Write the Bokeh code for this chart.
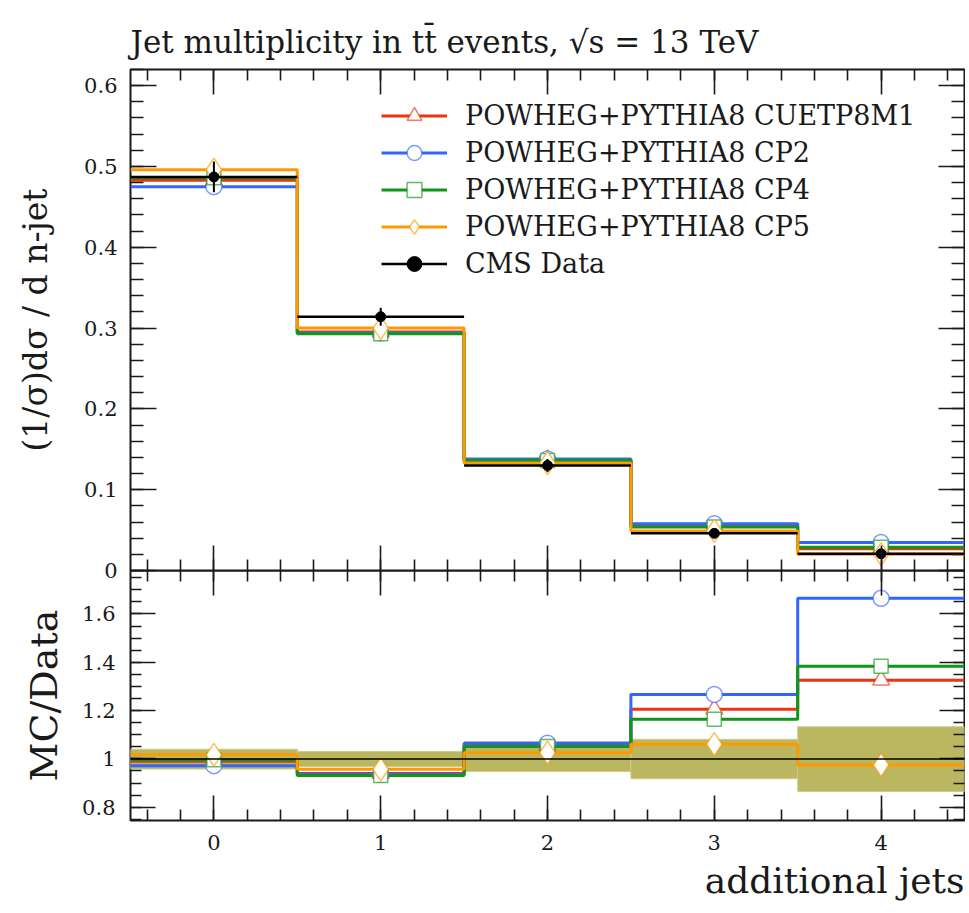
import numpy as np
from bokeh.plotting import figure
from bokeh.models import (Range1d, FixedTicker, LinearAxis, Legend, LegendItem,
                          Span, Title, CustomJSTickFormatter)
from bokeh.layouts import column
from bokeh.embed import file_html
from bokeh.resources import INLINE

# ---------------- data ----------------
n_jets = [0, 1, 2, 3, 4]
bin_lo = [-0.5, 0.5, 1.5, 2.5, 3.5]
bin_hi = [0.5, 1.5, 2.5, 3.5, 4.5]
x_tick_labels = ["0", "1", "2", "3", "4"]

data_val = [0.487, 0.314, 0.130, 0.046, 0.0207]
data_err = [0.019, 0.011, 0.008, 0.0037, 0.0028]

cuetp8m1_val = [0.483, 0.295, 0.137, 0.0555, 0.027]
cp2_val = [0.475, 0.294, 0.138, 0.0577, 0.0345]
cp4_val = [0.486, 0.293, 0.136, 0.0537, 0.0288]
cp5_val = [0.496, 0.300, 0.133, 0.0490, 0.0202]

cuetp8m1_ratio = [0.990, 0.940, 1.055, 1.206, 1.326]
cp2_ratio = [0.972, 0.936, 1.065, 1.267, 1.665]
cp4_ratio = [0.996, 0.931, 1.051, 1.164, 1.384]
cp5_ratio = [1.017, 0.957, 1.026, 1.061, 0.975]

band_lo = [0.958, 0.968, 0.948, 0.918, 0.865]
band_hi = [1.040, 1.031, 1.071, 1.081, 1.133]

upper_ticks = [0.0, 0.1, 0.2, 0.3, 0.4, 0.5, 0.6]
upper_tick_labels = ["0", "0.1", "0.2", "0.3", "0.4", "0.5", "0.6"]
ratio_ticks = [0.8, 1.0, 1.2, 1.4, 1.6]
ratio_tick_labels = ["0.8", "1", "1.2", "1.4", "1.6"]

mc_names = ["POWHEG+PYTHIA8 CUETP8M1", "POWHEG+PYTHIA8 CP2",
            "POWHEG+PYTHIA8 CP4", "POWHEG+PYTHIA8 CP5"]
mc_vals = [cuetp8m1_val, cp2_val, cp4_val, cp5_val]
mc_ratios = [cuetp8m1_ratio, cp2_ratio, cp4_ratio, cp5_ratio]
mc_colors = ["#EE3311", "#3366FF", "#109618", "#FF9900"]
mc_markers = ["triangle", "circle", "square", "diamond"]
mc_sizes = [17, 16, 14, 23]

FONT = "DejaVu Serif"
INK = "#1a1a1a"
OVERLAP = 12

x_range = Range1d(-0.5, 4.5)
x_minor = list(np.round(np.arange(-0.4, 4.41, 0.2), 3))


def style_axis(ax, show_labels=True, major_in=25, minor_in=11):
    ax.major_tick_in = major_in
    ax.major_tick_out = 0
    ax.minor_tick_in = minor_in
    ax.minor_tick_out = 0
    ax.major_tick_line_color = INK
    ax.minor_tick_line_color = INK
    ax.major_tick_line_width = 1.6
    ax.minor_tick_line_width = 1.6
    ax.axis_line_color = None
    ax.major_label_text_font = FONT
    ax.major_label_text_font_size = "21px"
    ax.major_label_text_color = INK
    if not show_labels:
        ax.formatter = CustomJSTickFormatter(code="return ''")
        ax.major_label_text_font_size = "0px"
        ax.major_label_standoff = 0


def step_xy(vals):
    return bin_lo + [bin_hi[-1]], list(vals) + [vals[-1]]


# ---------------- upper panel ----------------
p1 = figure(width=965, height=570 + OVERLAP, x_range=x_range, y_range=Range1d(0, 0.62),
            output_backend="svg", toolbar_location=None,
            min_border_left=130, min_border_right=1, min_border_top=69,
            min_border_bottom=OVERLAP)
p1.title.text = "Jet multiplicity in tt\u0304 events, \u221As = 13 TeV"
p1.title.text_font = FONT
p1.title.text_font_size = "31px"
p1.title.text_font_style = "normal"
p1.title.text_color = INK
p1.title.align = "left"
p1.title.standoff = 19
p1.grid.visible = False
p1.outline_line_color = INK
p1.outline_line_width = 2

xt = FixedTicker(ticks=n_jets, minor_ticks=x_minor)
yt1 = FixedTicker(ticks=upper_ticks,
                  minor_ticks=list(np.round(np.arange(0.0, 0.621, 0.02), 3)))
p1.xaxis.ticker = xt
p1.yaxis.ticker = yt1
style_axis(p1.xaxis[0], show_labels=False)
style_axis(p1.yaxis[0], major_in=26, minor_in=13)
p1.yaxis.major_label_overrides = dict(zip(upper_ticks, upper_tick_labels))
p1.yaxis.major_label_standoff = 13
p1.yaxis.axis_label = "(1/\u03C3)d\u03C3 / d n-jet"
p1.yaxis.axis_label_text_font = FONT
p1.yaxis.axis_label_text_font_size = "33px"
p1.yaxis.axis_label_text_font_style = "normal"
p1.yaxis.axis_label_text_color = INK
p1.yaxis.axis_label_standoff = 26

ax_r1 = LinearAxis(ticker=yt1)
style_axis(ax_r1, show_labels=False, major_in=26, minor_in=13)
p1.add_layout(ax_r1, "right")
ax_t1 = LinearAxis(ticker=xt)
style_axis(ax_t1, show_labels=False)
p1.add_layout(ax_t1, "above")

legend_items = []
for name, vals, col, mk, sz in zip(mc_names, mc_vals, mc_colors, mc_markers, mc_sizes):
    sx, sy = step_xy(vals)
    r_line = p1.step(sx, sy, mode="after", line_color=col, line_width=3)
    r_mk = p1.scatter(n_jets, vals, marker=mk, size=sz, line_color=col,
                      line_alpha=0.65, line_width=1.5, fill_color="white")
    legend_items.append(LegendItem(label=name, renderers=[r_line, r_mk]))

r_dx = p1.segment(x0=bin_lo, x1=bin_hi, y0=data_val, y1=data_val,
                  line_color="black", line_width=2.5)
d_lo = [v - e for v, e in zip(data_val, data_err)]
d_hi = [v + e for v, e in zip(data_val, data_err)]
p1.segment(x0=n_jets, x1=n_jets, y0=d_lo, y1=d_hi, line_color="black", line_width=2)
r_dp = p1.scatter(n_jets, data_val, marker="circle", size=10, color="black")
legend_items.append(LegendItem(label="CMS Data", renderers=[r_dx, r_dp]))

legend = Legend(items=legend_items, location=(251, 288))
legend.label_text_font = FONT
legend.label_text_font_size = "27px"
legend.label_text_color = INK
legend.glyph_width = 66
legend.glyph_height = 37
legend.label_height = 37
legend.label_standoff = 18
legend.spacing = 0
legend.padding = 0
legend.margin = 0
legend.border_line_alpha = 0
legend.background_fill_alpha = 0
p1.add_layout(legend)

# ---------------- ratio panel ----------------
p2 = figure(width=965, height=343, x_range=x_range, y_range=Range1d(0.745, 1.78),
            output_backend="svg", toolbar_location=None,
            min_border_left=130, min_border_right=1, min_border_top=0,
            min_border_bottom=93)
p2.styles = {"margin-top": f"-{OVERLAP}px"}
p2.background_fill_alpha = 0
p2.border_fill_alpha = 0
p2.grid.visible = False
p2.outline_line_color = INK
p2.outline_line_width = 2

yt2 = FixedTicker(ticks=ratio_ticks,
                  minor_ticks=list(np.round(np.arange(0.75, 1.781, 0.05), 3)))
p2.xaxis.ticker = xt
p2.yaxis.ticker = yt2
style_axis(p2.xaxis[0])
p2.xaxis.major_label_overrides = dict(zip(n_jets, x_tick_labels))
p2.xaxis.major_label_standoff = 14
style_axis(p2.yaxis[0])
p2.yaxis.major_label_overrides = dict(zip(ratio_ticks, ratio_tick_labels))
p2.yaxis.major_label_standoff = 15
p2.yaxis.axis_label = "MC/Data"
p2.yaxis.axis_label_text_font = FONT
p2.yaxis.axis_label_text_font_size = "38px"
p2.yaxis.axis_label_text_font_style = "normal"
p2.yaxis.axis_label_text_color = INK
p2.yaxis.axis_label_standoff = 13

ax_r2 = LinearAxis(ticker=yt2)
style_axis(ax_r2, show_labels=False)
p2.add_layout(ax_r2, "right")
ax_t2 = LinearAxis(ticker=xt)
style_axis(ax_t2, show_labels=False)
p2.add_layout(ax_t2, "above")

p2.quad(left=bin_lo, right=bin_hi, bottom=band_lo, top=band_hi,
        fill_color="#B3AF4F", fill_alpha=0.9, line_color="#CFCB8A", line_width=1)
p2.add_layout(Span(location=1.0, dimension="width", line_color="black", line_width=1.5))

for vals, col, mk, sz in zip(mc_ratios, mc_colors, mc_markers, mc_sizes):
    sx, sy = step_xy(vals)
    p2.step(sx, sy, mode="after", line_color=col, line_width=3)
for vals, col, mk, sz in zip(mc_ratios, mc_colors, mc_markers, mc_sizes):
    p2.scatter(n_jets, vals, marker=mk, size=sz, line_color=col,
               line_alpha=0.65, line_width=1.5, fill_color="white")

xt_title = Title(text="additional jets", align="right", text_font=FONT,
                 text_font_size="36px", text_font_style="normal", text_color=INK)
p2.add_layout(xt_title, "below")

layout = column(p1, p2, spacing=0)
open("out.html", "w").write(file_html(layout, INLINE))
